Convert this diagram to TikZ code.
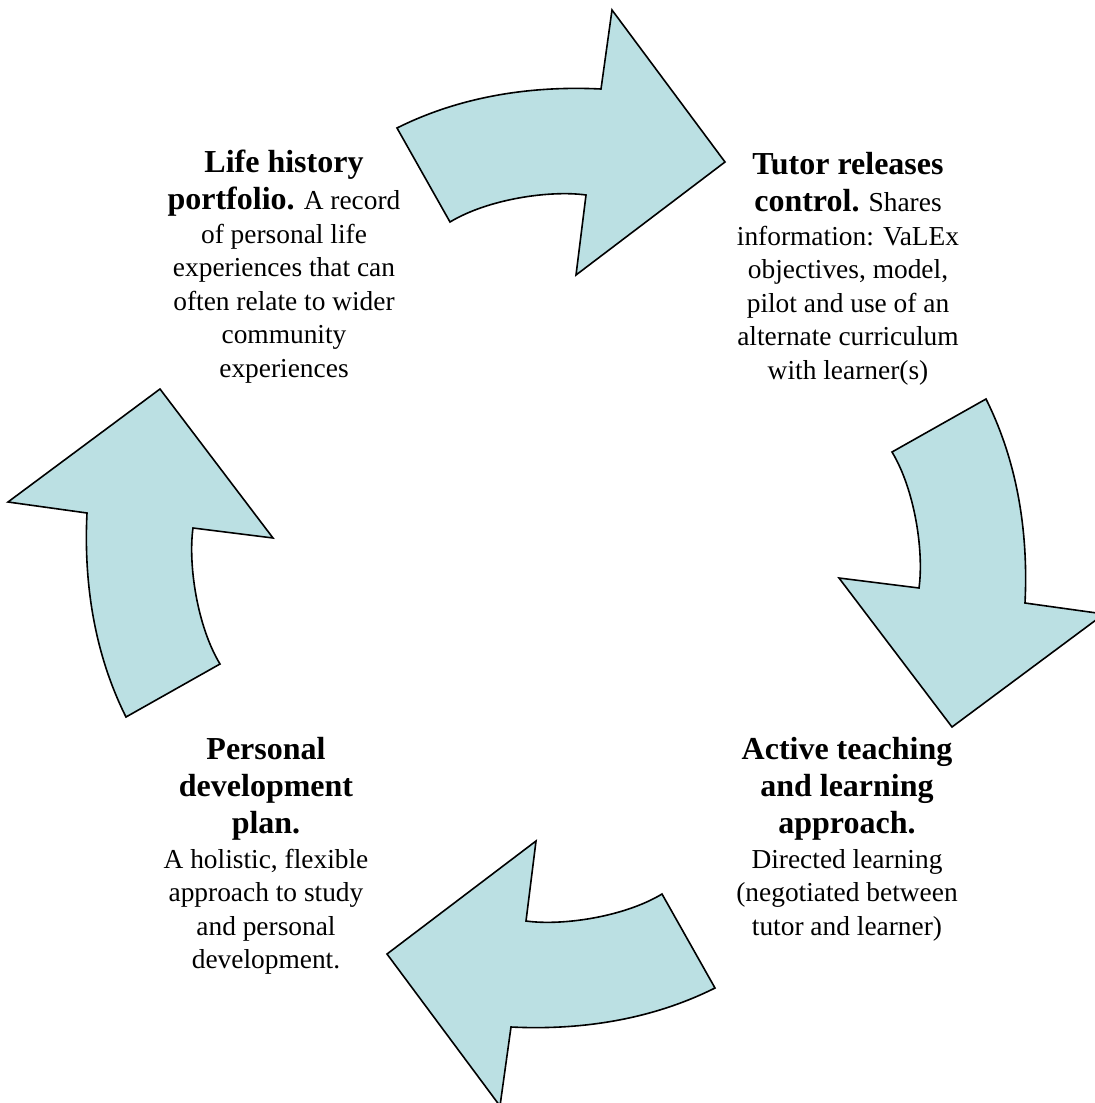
\documentclass[tikz,border=0pt]{standalone}
\usepackage{fontspec}
\setmainfont{Liberation Serif}
\definecolor{arrowfill}{RGB}{187,224,227}
\tikzset{
  cyclearrow/.style={draw=black, fill=arrowfill, line width=0.8pt, line join=miter},
  caption/.style={align=center, inner sep=0pt, anchor=north,
    font=\fontsize{13.7}{16.75}\selectfont}
}
\newcommand{\head}[1]{{\fontsize{16}{16.75}\selectfont\bfseries #1}}

\begin{document}
\begin{tikzpicture}[x=0.5pt, y=-0.5pt]
  \useasboundingbox (0,0) rectangle (1094,1103);
  % one arrow, turned four times round the middle
  \foreach \turn in {0,-90,-180,-270}{
    \begin{scope}[rotate around={\turn:(556,558)}]
      \draw[cyclearrow] (397,128)
        .. controls (467,93) and (541,86) .. (601,89)
        -- (612,10) -- (725,162) -- (576,275) -- (586,195)
        .. controls (550,190) and (488,199) .. (450,222)
        -- cycle;
    \end{scope}
  }
  \node[caption] (life) at (284,150) {\head{Life history}\\[1.75pt]
    \head{portfolio.} A record\\ of personal life\\ experiences that can\\
    often relate to wider\\ community\\ experiences};
  \node[caption] (tutor) at (848,152) {\head{Tutor releases}\\[1.75pt]
    \head{control.} Shares\\ information: VaLEx\\ objectives, model,\\
    pilot and use of an\\ alternate curriculum\\ with learner(s)};
  \node[caption] (active) at (847,737) {\head{Active teaching}\\[1.75pt]
    \head{and learning}\\[1.75pt] \head{approach.}\\[0.5pt]
    Directed learning\\ (negotiated between\\ tutor and learner)};
  \node[caption] (plan) at (266,737) {\head{Personal}\\[1.75pt]
    \head{development}\\[1.75pt] \head{plan.}\\[0.5pt]
    A holistic, flexible\\ approach to study\\ and personal\\ development.};
\end{tikzpicture}
\end{document}
